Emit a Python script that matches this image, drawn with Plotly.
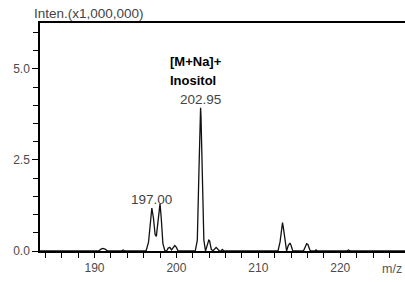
import plotly.graph_objects as go

# Profile of the spectrum (m/z, intensity x1,000,000)
mz = [183.3, 190.5, 190.8, 191.0, 191.3, 191.6, 193.3, 193.5, 193.7,
      196.3, 196.6, 196.8, 197.0, 197.2, 197.4, 197.55, 197.75, 197.9, 198.0, 198.15, 198.35, 198.6,
      198.8, 199.0, 199.2, 199.4, 199.6, 199.8, 200.0, 200.2,
      202.3, 202.55, 202.75, 202.9, 202.95, 203.0, 203.15, 203.35, 203.55,
      203.75, 203.95, 204.05, 204.25, 204.45, 204.65, 204.85, 205.05, 205.25, 205.45, 205.6, 205.8,
      212.4, 212.65, 212.85, 212.95, 213.05, 213.25, 213.45, 213.65, 213.85, 214.0, 214.2,
      215.5, 215.7, 215.9, 216.05, 216.3, 216.5, 216.9, 217.05, 217.2,
      220.8, 221.0, 221.2, 228.0]
inten = [0.0, 0.0, 0.05, 0.07, 0.05, 0.0, 0.0, 0.03, 0.0,
         0.0, 0.25, 0.8, 1.18, 0.9, 0.45, 0.4, 0.85, 1.22, 1.3, 0.9, 0.2, 0.0,
         0.0, 0.08, 0.1, 0.03, 0.1, 0.15, 0.1, 0.0,
         0.0, 0.3, 2.2, 3.7, 3.93, 3.7, 2.2, 0.3, 0.0,
         0.15, 0.3, 0.28, 0.05, 0.0, 0.05, 0.1, 0.05, 0.0, 0.0, 0.04, 0.0,
         0.0, 0.25, 0.65, 0.78, 0.65, 0.25, 0.0, 0.15, 0.22, 0.15, 0.0,
         0.0, 0.12, 0.2, 0.18, 0.02, 0.0, 0.0, 0.03, 0.0,
         0.0, 0.03, 0.0, 0.0]

peak_mz = [197.00, 202.95]
peak_int = [1.18, 3.93]
peak_text = ["197.00", "202.95"]
ion_text = ["[M+Na]+", "Inositol"]

x_ticks = [190, 200, 210, 220]
y_ticks = [0.0, 2.5, 5.0]
y_tick_text = ["0.0", "2.5", "5.0"]

fig = go.Figure()
fig.add_trace(go.Scatter(x=mz, y=inten, mode="lines",
                         line=dict(color="#111111", width=1.3), hoverinfo="skip"))

for xm, yi, t in zip(peak_mz, peak_int, peak_text):
    fig.add_annotation(x=xm, y=yi, text=t, showarrow=False, xref="x", yref="y",
                       yanchor="bottom", yshift=-1,
                       font=dict(family="Liberation Sans", size=13.5, color="#444444"))

for i, t in enumerate(ion_text):
    fig.add_annotation(x=peak_mz[1], y=peak_int[1], text="<b>" + t + "</b>", showarrow=False,
                       xref="x", yref="y", xanchor="left", yanchor="bottom",
                       xshift=-33, yshift=37 - 19 * i,
                       font=dict(family="Liberation Sans", size=13, color="black"))

fig.add_annotation(x=0, y=1, xref="paper", yref="paper", text="Inten.(x1,000,000)",
                   showarrow=False, xanchor="left", yanchor="bottom", xshift=-8, yshift=0,
                   font=dict(family="Liberation Sans", size=13.5, color="#444444"))
fig.add_annotation(x=1, y=0, xref="paper", yref="paper", text="m/z",
                   showarrow=False, xanchor="right", yanchor="top", xshift=-1, yshift=-9,
                   font=dict(family="Liberation Sans", size=12.5, color="#555555"))

fig.update_layout(
    width=405, height=282,
    margin=dict(l=40, r=0, t=23, b=31),
    paper_bgcolor="white", plot_bgcolor="white",
    showlegend=False,
    xaxis=dict(range=[183.35, 227.9], tickvals=x_ticks, ticks="outside", ticklen=5,
               tickcolor="black", tickwidth=1, showline=True, linecolor="black", linewidth=1.5,
               mirror=True, showgrid=False, zeroline=False,
               minor=dict(dtick=2, tick0=0, ticks="outside", ticklen=5, tickcolor="black", showgrid=False),
               tickfont=dict(family="Liberation Sans", size=12, color="#4a4a4a")),
    yaxis=dict(range=[0, 6.26], tickvals=y_ticks, ticktext=y_tick_text, ticks="outside", ticklen=6,
               tickcolor="black", tickwidth=1, showline=True, linecolor="black", linewidth=1.5,
               showgrid=False, zeroline=False,
               minor=dict(dtick=0.5, tick0=0, ticks="outside", ticklen=5, tickcolor="black", showgrid=False),
               tickfont=dict(family="Liberation Sans", size=12, color="#4a4a4a")),
)

fig.write_html("out.html", config={"displayModeBar": False},
               post_script="document.body.style.margin='0';document.body.style.padding='0';")
